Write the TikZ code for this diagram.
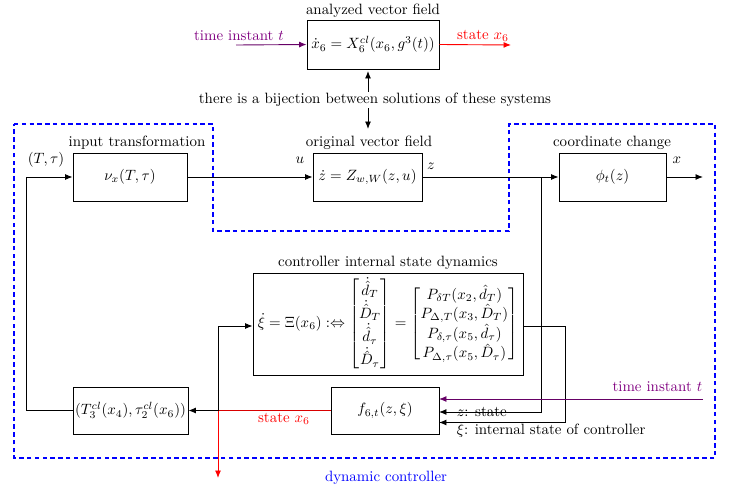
\documentclass[tikz,border=0pt]{standalone}
\usepackage{amsmath}
\usetikzlibrary{arrows.meta}
\newcommand\pxu{0.67pt}
\begin{document}
\begin{tikzpicture}[x=0.67pt,y=-0.67pt,
  blk/.style={draw,line width=0.6pt,inner sep=0pt,align=center},
  conn/.style={line width=0.6pt},
  arr/.style={conn,-{Latex[length=5pt,width=4pt]}},
  dbl/.style={conn,{Latex[length=5pt,width=4pt]}-{Latex[length=5pt,width=4pt]}},
  lbl/.style={inner sep=1pt},
  ctrl/.style={draw=blue,line width=1.1pt,dash pattern=on 3pt off 2.2pt}]
\useasboundingbox (0,0) rectangle (735,491);
% dashed controller region
\draw[ctrl] (14,124) -- (213,124) -- (213,231) -- (509,231) -- (509,124) -- (715,124) -- (715,458) -- (14,458) -- cycle;
\node[lbl,text=blue] (dclab) at (386,478) {dynamic controller};
% blocks
\node[blk,minimum width={132*\pxu},minimum height={49*\pxu}] (av) at (373,44.5) {$\dot{x}_6 = X_6^{cl}(x_6, g^3(t))$};
\node[lbl] (avlab) at (373,11) {analyzed vector field};
\node[blk,minimum width={109*\pxu},minimum height={48*\pxu}] (ov) at (367.5,177) {$\dot{z} = Z_{w,W}(z,u)$};
\node[lbl] (ovlab) at (369,143) {original vector field};
\node[blk,minimum width={114*\pxu},minimum height={48*\pxu}] (it) at (130,177) {$\nu_x(T,\tau)$};
\node[lbl] (itlab) at (137,143) {input transformation};
\node[blk,minimum width={107*\pxu},minimum height={48*\pxu}] (cc) at (612.5,177) {$\phi_t(z)$};
\node[lbl] (cclab) at (612,143) {coordinate change};
\node[blk,minimum width={270*\pxu},minimum height={102*\pxu}] (xi) at (388,324) {$\dot{\xi} = \Xi(x_6) :\Leftrightarrow
  \begin{bmatrix} \dot{\hat{d}}_T \\ \dot{\hat{D}}_T \\ \dot{\hat{d}}_\tau \\ \dot{\hat{D}}_\tau \end{bmatrix}
  = \begin{bmatrix} P_{\delta T}(x_2,\hat{d}_T) \\ P_{\Delta,T}(x_3,\hat{D}_T) \\ P_{\delta,\tau}(x_5,\hat{d}_\tau) \\ P_{\Delta,\tau}(x_5,\hat{D}_\tau) \end{bmatrix}$};
\node[lbl] (xilab) at (388,263) {controller internal state dynamics};
\node[blk,minimum width={108*\pxu},minimum height={47*\pxu}] (f) at (385,410.5) {$f_{6,t}(z,\xi)$};
\node[blk,minimum width={115*\pxu},minimum height={47*\pxu}] (tc) at (130.5,410.5) {$(T_3^{cl}(x_4),\tau_2^{cl}(x_6))$};
% top connectors
\coordinate (tin) at (236,45);
\coordinate (sout) at (511,45);
\draw[arr,draw=violet!80!black] (tin) -- (av.west);
\node[lbl,text=violet] (tlab) at (239,36) {time instant $t$};
\draw[arr,draw=red] (av.east) -- (sout);
\node[lbl,text=red] (slab) at (483,36) {state $x_6$};
\coordinate (bt) at (368,71);
\coordinate (bb) at (368,129);
\draw[dbl] (bt) -- (bb);
\node[lbl,fill=white] (bij) at (375,100) {there is a bijection between solutions of these systems};
% main line
\draw[arr] (it.east) -- (ov.west);
\node[lbl] (ulab) at (300,160) {$u$};
\draw[arr] (ov.east) -- (cc.west);
\node[lbl] (zlab) at (431,166) {$z$};
\coordinate (xout) at (703,177);
\draw[arr] (cc.east) -- (xout);
\node[lbl] (xlab) at (677,160) {$x$};
% z branch to f
\coordinate (zj) at (541,177);
\coordinate (fz) at (439,412);
\draw[arr] (zj) |- (fz);
\node[lbl,anchor=west] (zst) at (455,412) {$z$: state};
% xi output to f
\coordinate (fxi) at (439,422.5);
\coordinate (xr) at (565,326);
\draw[conn] (xi.east |- xr) -- (xr);
\draw[arr] (xr) |- (fxi);
\node[lbl,anchor=west] (xist) at (455,431) {$\xi$: internal state of controller};
% time instant into f
\coordinate (ft) at (703,399);
\coordinate (fti) at (439,399);
\draw[arr,draw=violet!80!black] (ft) -- (fti);
\node[lbl,anchor=east,text=violet] (tlab2) at (704,387) {time instant $t$};
% state x6
\coordinate (sj) at (218,410.5);
\coordinate (sdown) at (218,478);
\coordinate (xin) at (218,326);
\draw[conn,draw=red!85!black] (f.west) -- (sj);
\draw[arr] (sj) -- (tc.east);
\draw[arr,draw=red] (sj) -- (sdown);
\draw[conn] (sj) -- (xin);
\draw[arr] (xin) -- (xi.west |- xin);
\node[lbl,text=red] (s6lab) at (284,419) {state $x_6$};
% feedback
\coordinate (fb) at (26,410.5);
\draw[conn] (tc.west) -- (fb);
\draw[arr] (fb) |- (it.west);
\node[lbl] (ttlab) at (46,160) {$(T,\tau)$};
\end{tikzpicture}
\end{document}
